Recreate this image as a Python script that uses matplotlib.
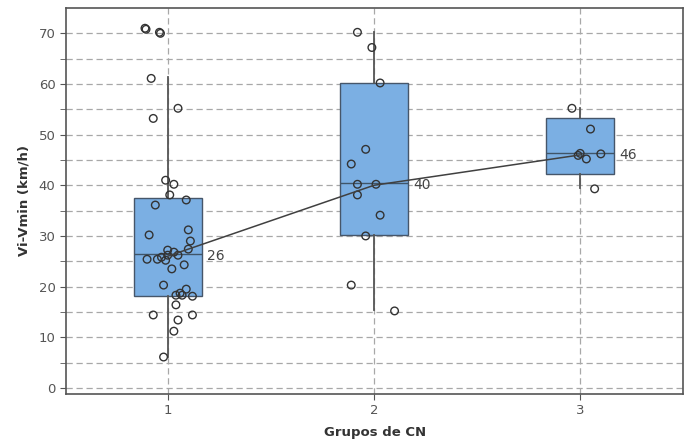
import matplotlib
matplotlib.use("Agg")
import matplotlib.pyplot as plt
import numpy as np

# ---- data ----
groups = [1, 2, 3]
q1 = [18.1, 30.2, 42.2]
median = [26.4, 40.4, 46.3]
q3 = [37.5, 60.1, 53.2]
whis_lo = [6.1, 15.3, 39.4]
whis_hi = [61.3, 70.2, 55.2]
means = [26, 40, 46]
mean_labels = ["26", "40", "46"]

# individual observations: (x jitter offset, value)
g1_offsets = [-0.11, -0.105, -0.04, -0.035, -0.08, 0.05, -0.07, -0.01, 0.03, 0.01, 0.09, -0.06,
              -0.09, 0.10, 0.11, 0.10, -0.10, -0.05, -0.03, 0.00, 0.00, 0.03, 0.05, -0.01,
              0.08, 0.02, -0.02, 0.04, 0.07, 0.09, 0.12, 0.06, 0.04, -0.07, 0.12, 0.05, 0.03, -0.02]
g1_values = [71.0, 70.8, 70.2, 70.0, 61.1, 55.2, 53.2, 41.0, 40.2, 38.1, 37.1, 36.1,
             30.2, 31.2, 29.0, 27.4, 25.4, 25.4, 25.8, 26.2, 27.2, 26.8, 26.2, 25.2,
             24.3, 23.5, 20.3, 18.3, 18.3, 19.5, 18.1, 18.7, 16.4, 14.4, 14.4, 13.4, 11.2, 6.1]
g2_offsets = [-0.08, -0.01, 0.03, -0.04, -0.11, -0.08, 0.01, -0.08, 0.03, -0.04, -0.11, 0.10]
g2_values = [70.2, 67.2, 60.2, 47.1, 44.2, 40.2, 40.2, 38.1, 34.1, 30.0, 20.3, 15.2]
g3_offsets = [-0.04, 0.05, 0.00, -0.01, 0.03, 0.10, 0.07]
g3_values = [55.2, 51.1, 46.3, 45.9, 45.2, 46.2, 39.3]

xlabel = "Grupos de CN"
ylabel = "Vi-Vmin (km/h)"

# ---- figure ----
fig = plt.figure(figsize=(6.84, 4.44), dpi=100)
ax = fig.add_axes([0.0965, 0.1126, 0.9025, 0.8694])

grid_c = "#a8a8a8"
ax.set_axisbelow(True)
ax.yaxis.grid(True, which="both", linestyle=(0, (5, 3)), color=grid_c, linewidth=0.9)
ax.xaxis.grid(True, which="major", linestyle=(0, (5, 3)), color=grid_c, linewidth=0.9)

stats = []
for i in range(len(groups)):
    stats.append(dict(med=median[i], q1=q1[i], q3=q3[i],
                      whislo=whis_lo[i], whishi=whis_hi[i], fliers=[]))
ax.bxp(stats, positions=groups, widths=0.33, patch_artist=True, showfliers=False,
       showcaps=False,
       boxprops=dict(facecolor="#7bafe3", edgecolor="#46566a", linewidth=1.0),
       medianprops=dict(color="#3f5569", linewidth=1.0),
       whiskerprops=dict(color="#555555", linewidth=1.3),
       zorder=2)

for g, offs, vals in [(1, g1_offsets, g1_values), (2, g2_offsets, g2_values), (3, g3_offsets, g3_values)]:
    xs = np.array(offs) + g
    ax.scatter(xs, vals, s=30, facecolors="none", edgecolors="#333333", linewidths=1.0, zorder=4)

ax.plot(groups, means, color="#404040", linewidth=1.1, zorder=5)
for g, m, lab in zip(groups, means, mean_labels):
    ax.text(g + 0.19, m, lab, ha="left", va="center", fontsize=10, color="#444444", zorder=6)

ax.set_xlim(0.507, 3.5)
ax.set_ylim(-1.2, 75)
ax.set_xticks(groups)
ax.set_xticklabels([str(g) for g in groups])
ax.set_yticks(np.arange(0, 71, 10))
ax.set_yticks(np.arange(5, 71, 10), minor=True)

ax.tick_params(axis="both", which="major", direction="out", length=4, colors="#555555",
               labelsize=9.5, labelcolor="#555555")
ax.tick_params(axis="y", which="minor", direction="out", length=4, colors="#555555")

for sp in ax.spines.values():
    sp.set_color("#555555")
    sp.set_linewidth(1.2)

ax.set_xlabel(xlabel, fontsize=9.5, fontweight="bold", color="#333333", labelpad=6)
ax.set_ylabel(ylabel, fontsize=9.5, fontweight="bold", color="#333333", labelpad=6)

fig.savefig("out.png", dpi=100)
